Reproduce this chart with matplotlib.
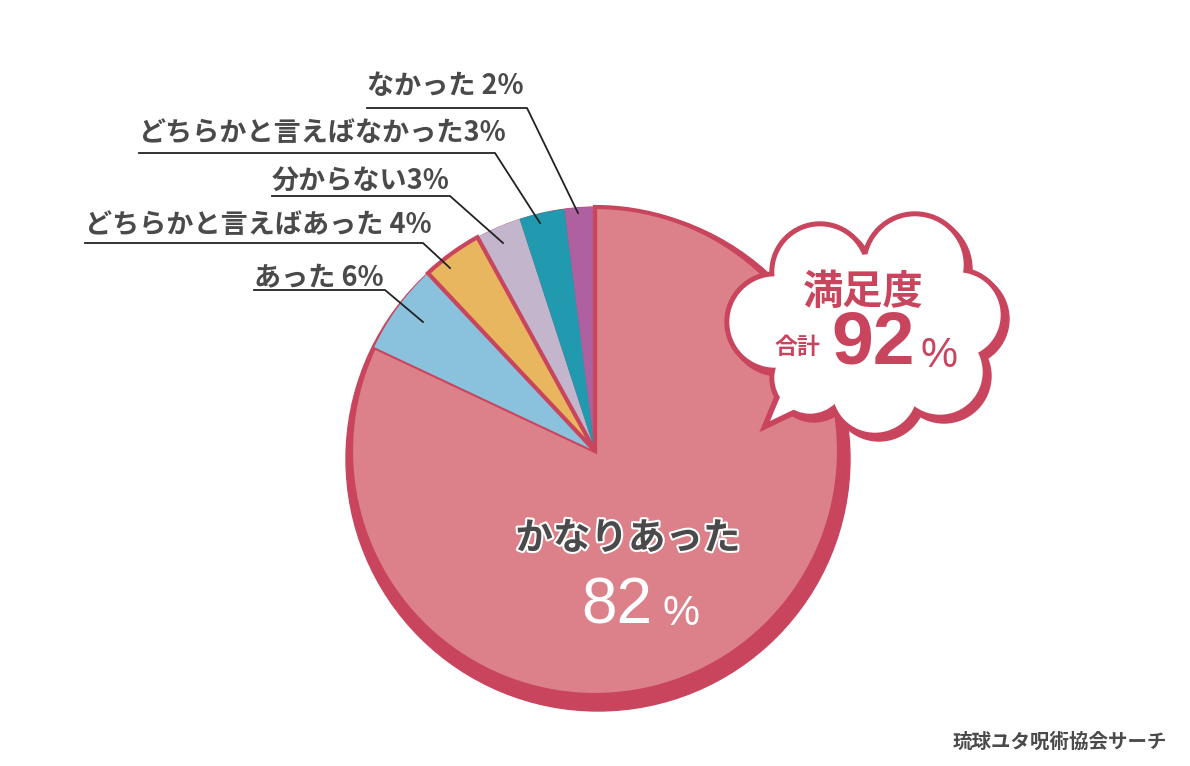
import matplotlib
matplotlib.use("Agg")
import matplotlib.pyplot as plt
import matplotlib.patheffects as pe
from matplotlib.patches import Circle, Polygon

plt.rcParams['font.family'] = ['Noto Sans CJK JP', 'DejaVu Sans']

# data
labels = ["かなりあった", "あった", "どちらかと言えばあった", "分からない",
          "どちらかと言えばなかった", "なかった"]
values = [82, 6, 4, 3, 3, 2]
colors = ["#DC818A", "#8AC2DE", "#E8B65E", "#C2B5CC", "#2199AE", "#AE60A0"]
side_labels = ["あった 6%", "どちらかと言えばあった 4%", "分からない3%",
               "どちらかと言えばなかった3%", "なかった 2%"]
total_label = "92"

DARK = "#C9455E"
GRAY = "#4A4A4A"
H = 766


def Y(y):
    return H - y


fig = plt.figure(figsize=(11.9, 7.66), dpi=100)
ax = fig.add_axes([0, 0, 1, 1])

cx, cy, r = 595, 451, 244

# shadow ring under the pie
ax.add_patch(Circle((598, Y(459)), 252, color=DARK, zorder=1))

wedges, _ = ax.pie(values, colors=colors, startangle=90, counterclock=False,
                   center=(cx, Y(cy)), radius=r,
                   wedgeprops=dict(linewidth=0))
for w in wedges:
    w.set_zorder(2)
wedges[0].set_edgecolor(DARK)
wedges[0].set_linewidth(3)
wedges[2].set_edgecolor(DARK)
wedges[2].set_linewidth(3)
wedges[2].set_zorder(3)
ax.plot([cx, cx], [Y(cy), Y(cy - r)], color=DARK, lw=3, zorder=3,
        solid_capstyle="butt")

# side labels: (text left x, text y, underline y, underline right x, leader end)
pos = [
    (254, 277, 290, 385, (423, 322)),
    (85, 225, 243, 423, (450, 268)),
    (272, 181, 196, 450, (503, 243)),
    (139, 133, 153, 495, (540, 223)),
    (367, 86, 108, 527, (578, 213)),
]
for txt, (x0, ty, uy, ux, (ex, ey)) in zip(side_labels, pos):
    ax.text(x0, Y(ty), txt, fontsize=19.5, fontweight="bold", color=GRAY,
            ha="left", va="center", zorder=5)
    ax.plot([x0, ux, ex], [Y(uy), Y(uy), Y(ey)], color="#222222", lw=1.3,
            zorder=5)

# center label
ax.text(628, Y(538), labels[0], fontsize=27, fontweight="bold", color=GRAY,
        ha="center", va="center", zorder=5,
        path_effects=[pe.withStroke(linewidth=3, foreground="white")])
ax.text(617, Y(606), str(values[0]), fontsize=46, color="white",
        family=["Liberation Sans", "DejaVu Sans"],
        ha="center", va="center", zorder=5)
ax.text(663, Y(614), "%", fontsize=30, color="white",
        family=["Liberation Sans", "DejaVu Sans"],
        ha="left", va="center", zorder=5)

# cloud bubble
circles = [(820, 272, 45), (915, 265, 48), (958, 315, 42), (940, 372, 42),
           (875, 390, 42), (775, 322, 45), (810, 378, 35), (870, 325, 70)]
tail = [(785, 385), (770, 421), (818, 398)]
for (x, y, rr) in circles:
    ax.add_patch(Circle((x + 4, Y(y + 4)), rr + 5, color=DARK, zorder=6))
    ax.add_patch(Circle((x, Y(y)), rr + 5, color=DARK, zorder=6))
ax.add_patch(Polygon([(x, Y(y)) for x, y in tail], closed=True, color=DARK,
                     lw=8, zorder=6))
for (x, y, rr) in circles:
    ax.add_patch(Circle((x, Y(y)), rr, color="white", zorder=7))
ax.add_patch(Polygon([(x, Y(y)) for x, y in tail], closed=True,
                     color="white", lw=0, zorder=7))

ax.text(863, Y(293), "満足度", fontsize=29, fontweight="bold", color=DARK,
        ha="center", va="center", zorder=8)
ax.text(797, Y(347), "合計", fontsize=16.5, fontweight="bold", color=DARK,
        ha="center", va="center", zorder=8)
ax.text(873, Y(344), total_label, fontsize=54, fontweight="bold", color=DARK,
        family=["Liberation Sans", "DejaVu Sans"],
        ha="center", va="center", zorder=8)
ax.text(920, Y(356), "%", fontsize=30, color=DARK,
        family=["Liberation Sans", "DejaVu Sans"],
        ha="left", va="center", zorder=8)

ax.text(1167, Y(742), "琉球ユタ呪術協会サーチ", fontsize=14, fontweight="bold",
        color=GRAY, ha="right", va="center", zorder=5)

ax.set_xlim(0, 1190)
ax.set_ylim(0, H)
ax.set_aspect("equal")
ax.axis("off")

fig.savefig("out.png", dpi=100, facecolor="white")
